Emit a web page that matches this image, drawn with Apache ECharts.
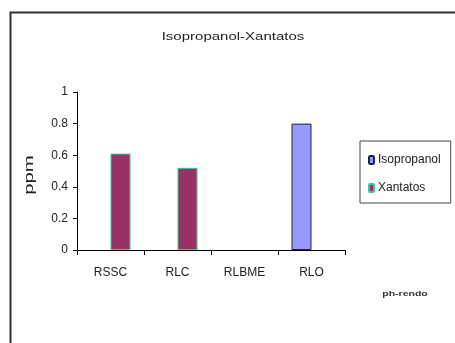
<!DOCTYPE html>
<html>
<head>
<meta charset="utf-8">
<script src="https://cdn.jsdelivr.net/npm/echarts@6/dist/echarts.min.js"></script>
<style>
  html, body { margin: 0; padding: 0; background: #fff; }
  #chart { width: 455px; height: 343px; }
</style>
</head>
<body>
<div id="chart"></div>
<script>
// Sample categories and measured concentrations (ppm)
var categories = ['RSSC', 'RLC', 'RLBME', 'RLO'];
var isopropanol = [null, null, null, 0.8];
var xantatos = [0.61, 0.52, null, null];
var yTicks = [0, 0.2, 0.4, 0.6, 0.8, 1];

var chart = echarts.init(document.getElementById('chart'), null, { renderer: 'canvas' });
var font = 'Liberation Sans, Arial, sans-serif';

chart.setOption({
  animation: false,
  backgroundColor: '#ffffff',
  graphic: [
    {
      type: 'rect',
      left: 8, top: 10,
      shape: { width: 470, height: 360 },
      style: { fill: 'none', stroke: '#333', lineWidth: 2 },
      silent: true
    },
    {
      // chart title, drawn wide
      type: 'text',
      x: 233, y: 37,
      scaleX: 1.5,
      style: {
        text: 'Isopropanol-Xantatos', font: '10px ' + font, fill: '#222',
        align: 'center', verticalAlign: 'middle'
      }
    },
    {
      // y axis title
      type: 'text',
      x: 30, y: 175,
      rotation: Math.PI / 2,
      scaleX: 1.7,
      style: {
        text: 'ppm', font: '12px ' + font, fill: '#222',
        align: 'center', verticalAlign: 'middle'
      }
    },
    {
      type: 'text',
      x: 405, y: 294,
      scaleX: 1.5,
      style: {
        text: 'ph-rendo', font: 'bold 7px ' + font, fill: '#333',
        align: 'center', verticalAlign: 'middle'
      }
    }
  ],
  legend: {
    orient: 'vertical',
    left: 360,
    top: 141,
    padding: [13, 10, 9, 8],
    itemGap: 16,
    itemWidth: 5,
    itemHeight: 8,
    borderColor: '#444',
    borderWidth: 1,
    textStyle: { fontFamily: font, fontSize: 12, color: '#222', padding: [0, 0, 0, -1] },
    data: ['Isopropanol', 'Xantatos']
  },
  grid: { left: 77, right: 110, top: 92, bottom: 93, containLabel: false },
  xAxis: {
    type: 'category',
    data: categories,
    boundaryGap: true,
    axisLine: { lineStyle: { color: '#000', width: 1 } },
    axisTick: { show: true, length: 5, lineStyle: { color: '#000' } },
    axisLabel: { fontFamily: font, fontSize: 12, color: '#222', margin: 17 }
  },
  yAxis: {
    type: 'value',
    min: 0,
    max: 1,
    interval: 0.2,
    splitLine: { show: false },
    axisLine: { show: true, lineStyle: { color: '#000', width: 1 } },
    axisTick: { show: true, length: 4, lineStyle: { color: '#000' } },
    axisLabel: {
      fontFamily: font, fontSize: 12, color: '#222', margin: 9,
      formatter: function (v) {
        var t = yTicks.find(function (x) { return Math.abs(x - v) < 1e-9; });
        return t === undefined ? '' : String(t);
      }
    }
  },
  series: [
    {
      name: 'Isopropanol',
      type: 'bar',
      data: isopropanol,
      barWidth: 20,
      barGap: '0%',
      itemStyle: { color: '#9999ff', borderColor: '#222244', borderWidth: 1 }
    },
    {
      name: 'Xantatos',
      type: 'bar',
      data: xantatos,
      barWidth: 20,
      itemStyle: { color: '#993366', borderColor: '#33cc99', borderWidth: 1 }
    }
  ]
});
</script>
</body>
</html>
